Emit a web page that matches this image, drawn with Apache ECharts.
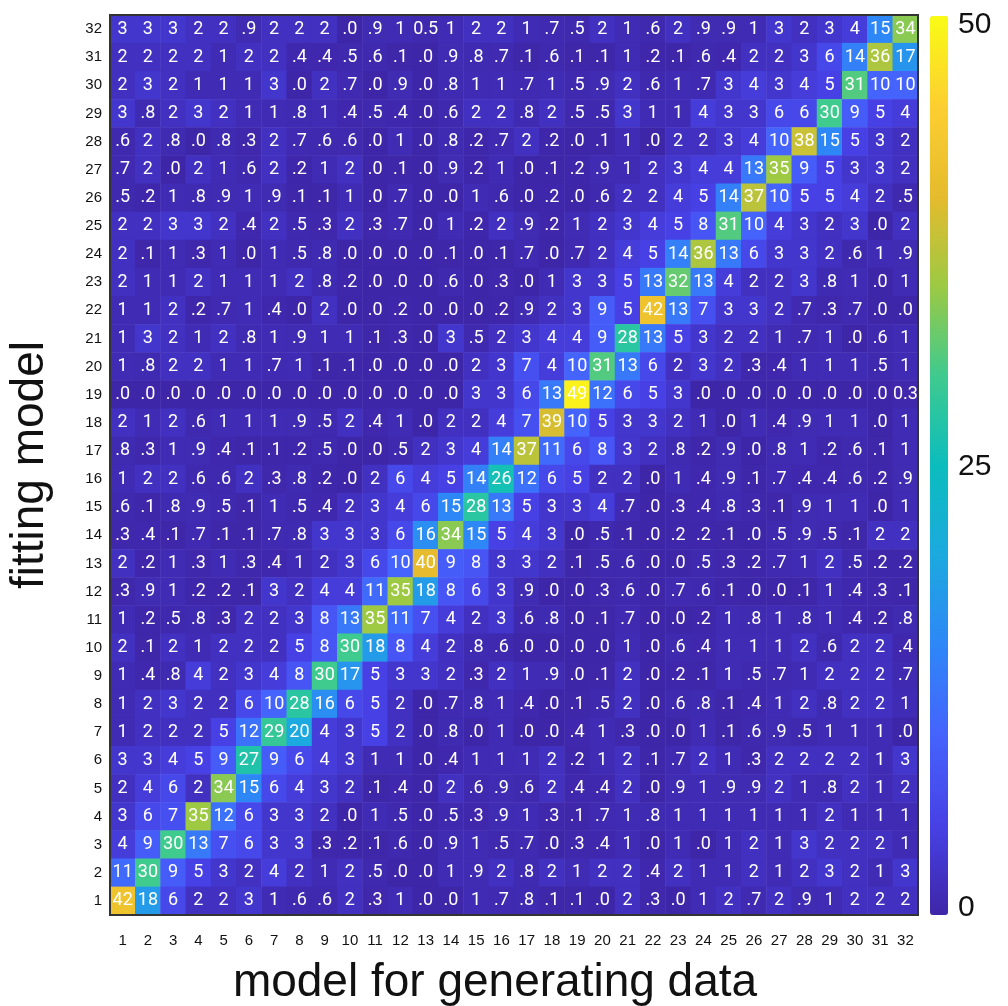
<!DOCTYPE html>
<html>
<head>
<meta charset="utf-8">
<script src="https://cdn.jsdelivr.net/npm/echarts@6/dist/echarts.min.js"></script>
<style>
  html, body { margin: 0; padding: 0; background: #fff; }
  #chart { width: 1008px; height: 1006px; }
</style>
</head>
<body>
<div id="chart"></div>
<script>
// model numbers, used for both axes
const models = ["1","2","3","4","5","6","7","8","9","10","11","12","13","14","15","16",
  "17","18","19","20","21","22","23","24","25","26","27","28","29","30","31","32"];

// rows of the matrix, top (fitting model 32) to bottom (fitting model 1),
// columns are the generating model 1..32
const rows = [
  [3,3,3,2,2,.9,2,2, 2,0,.9,1,.5,1,2,2, 1,.7,.5,2,1,.6,2,.9, .9,1,3,2,3,4,15,34],
  [2,2,2,2,1,2,2,.4, .4,.5,.6,.1,0,.9,.8,.7, .1,.6,.1,.1,1,.2,.1,.6, .4,2,2,3,6,14,36,17],
  [2,3,2,1,1,1,3,0, 2,.7,0,.9,0,.8,1,1, .7,1,.5,.9,2,.6,1,.7, 3,4,3,4,5,31,10,10],
  [3,.8,2,3,2,1,1,.8, 1,.4,.5,.4,0,.6,2,2, .8,2,.5,.5,3,1,1,4, 3,3,6,6,30,9,5,4],
  [.6,2,.8,0,.8,.3,2,.7, .6,.6,0,1,0,.8,.2,.7, 2,.2,0,.1,1,0,2,2, 3,4,10,38,15,5,3,2],
  [.7,2,0,2,1,.6,2,.2, 1,2,0,.1,0,.9,.2,1, 0,.1,.2,.9,1,2,3,4, 4,13,35,9,5,3,3,2],
  [.5,.2,1,.8,.9,1,.9,.1, .1,1,0,.7,0,0,1,.6, 0,.2,0,.6,2,2,4,5, 14,37,10,5,5,4,2,.5],
  [2,2,3,3,2,.4,2,.5, .3,2,.3,.7,0,1,.2,2, .9,.2,1,2,3,4,5,8, 31,10,4,3,2,3,0,2],
  [2,.1,1,.3,1,0,1,.5, .8,0,0,0,0,.1,0,.1, .7,0,.7,2,4,5,14,36, 13,6,3,3,2,.6,1,.9],
  [2,1,1,2,1,1,1,2, .8,.2,0,0,0,.6,0,.3, 0,1,3,3,5,13,32,13, 4,2,2,3,.8,1,0,1],
  [1,1,2,.2,.7,1,.4,0, 2,0,0,.2,0,0,0,.2, .9,2,3,9,5,42,13,7, 3,3,2,.7,.3,.7,0,0],
  [1,3,2,1,2,.8,1,.9, 1,1,.1,.3,0,3,.5,2, 3,4,4,9,28,13,5,3, 2,2,1,.7,1,0,.6,1],
  [1,.8,2,2,1,1,.7,1, .1,.1,0,0,0,0,2,3, 7,4,10,31,13,6,2,3, 2,.3,.4,1,1,1,.5,1],
  [0,0,0,0,0,0,0,0, 0,0,0,0,0,0,3,3, 6,13,49,12,6,5,3,0, 0,0,0,0,0,0,0,.3],
  [2,1,2,.6,1,1,1,.9, .5,2,.4,1,0,2,2,4, 7,39,10,5,3,3,2,1, 0,1,.4,.9,1,1,0,1],
  [.8,.3,1,.9,.4,.1,.1,.2, .5,0,0,.5,2,3,4,14, 37,11,6,8,3,2,.8,.2, .9,0,.8,1,.2,.6,.1,1],
  [1,2,2,.6,.6,2,.3,.8, .2,0,2,6,4,5,14,26, 12,6,5,2,2,0,1,.4, .9,.1,.7,.4,.4,.6,.2,.9],
  [.6,.1,.8,.9,.5,.1,1,.5, .4,2,3,4,6,15,28,13, 5,3,3,4,.7,0,.3,.4, .8,.3,.1,.9,1,1,0,1],
  [.3,.4,.1,.7,.1,.1,.7,.8, 3,3,3,6,16,34,15,5, 4,3,0,.5,.1,0,.2,.2, .1,0,.5,.9,.5,.1,2,2],
  [2,.2,1,.3,1,.3,.4,1, 2,3,6,10,40,9,8,3, 3,2,.1,.5,.6,0,0,.5, .3,.2,.7,1,2,.5,.2,.2],
  [.3,.9,1,.2,.2,.1,3,2, 4,4,11,35,18,8,6,3, .9,0,0,.3,.6,0,.7,.6, .1,0,0,.1,1,.4,.3,.1],
  [1,.2,.5,.8,.3,2,2,3, 8,13,35,11,7,4,2,3, .6,.8,0,.1,.7,0,0,.2, 1,.8,1,.8,1,.4,.2,.8],
  [2,.1,2,1,2,2,2,5, 8,30,18,8,4,2,.8,.6, 0,0,0,0,1,0,.6,.4, 1,1,1,2,.6,2,2,.4],
  [1,.4,.8,4,2,3,4,8, 30,17,5,3,3,2,.3,2, 1,.9,0,.1,2,0,.2,.1, 1,.5,.7,1,2,2,2,.7],
  [1,2,3,2,2,6,10,28, 16,6,5,2,0,.7,.8,1, .4,0,.1,.5,2,0,.6,.8, .1,.4,1,2,.8,2,2,1],
  [1,2,2,2,5,12,29,20, 4,3,5,2,0,.8,0,1, 0,0,.4,1,.3,0,0,1, .1,.6,.9,.5,1,1,1,0],
  [3,3,4,5,9,27,9,6, 4,3,1,1,0,.4,1,1, 1,2,.2,1,2,.1,.7,2, 1,.3,2,2,2,2,1,3],
  [2,4,6,2,34,15,6,4, 3,2,.1,.4,0,2,.6,.9, .6,2,.4,.4,2,0,.9,1, .9,.9,2,1,.8,2,1,2],
  [3,6,7,35,12,6,3,3, 2,0,1,.5,0,.5,.3,.9, 1,.3,.1,.7,1,.8,1,1, 1,1,1,1,2,1,1,1],
  [4,9,30,13,7,6,3,3, .3,.2,.1,.6,0,.9,1,.5, .7,0,.3,.4,1,0,1,0, 1,2,1,3,2,2,2,1],
  [11,30,9,5,3,2,4,2, 1,2,.5,0,0,1,.9,2, .8,2,1,2,2,.4,2,1, 1,2,1,2,3,2,1,3],
  [42,18,6,2,2,3,1,.6, .6,2,.3,1,0,0,1,.7, .8,.1,.1,0,2,.3,0,1, 2,.7,2,.9,1,2,2,2]
];

// cells printed as "0.x" instead of ".x"  ([x index, y index])
const leadingZeroCells = [[12, 31], [31, 18]];

const colorTicks = [0, 25, 50];

// parula
const parula = ["#3e26a8", "#4741e5", "#4563fd", "#2e87f7", "#1ca9df", "#0bbdbd",
  "#3fca8e", "#9dc943", "#e6bb2d", "#fccf30", "#f9fb15"];

const data = [];
rows.forEach((row, i) => {
  const y = rows.length - 1 - i;
  row.forEach((v, x) => data.push([x, y, v]));
});

function cellLabel(p) {
  const [x, y, v] = p.value;
  if (v >= 1) return String(Math.round(v));
  const keepZero = leadingZeroCells.some(c => c[0] === x && c[1] === y);
  const s = v.toFixed(1);
  return keepZero ? s : s.slice(1);
}

const chart = echarts.init(document.getElementById("chart"));
const tickFont = "'Liberation Sans', Helvetica, Arial, sans-serif";

chart.setOption({
  animation: false,
  backgroundColor: "#fff",
  grid: [
    {
      left: 110, right: 90, top: 15, bottom: 91,
      outerBoundsMode: "none",
      show: true, borderColor: "#333", borderWidth: 2, backgroundColor: "transparent", z: 10
    },
    // colorbar tick labels
    { left: 930, width: 18, top: 25, height: 883, outerBoundsMode: "none" }
  ],
  xAxis: [
    {
      type: "category",
      data: models,
      name: "model for generating data",
      nameLocation: "middle",
      nameGap: 45,
      nameTextStyle: { fontSize: 46, color: "#111", fontFamily: tickFont, padding: [0, 38, 0, 0] },
      axisLine: { show: false },
      axisTick: { show: false },
      axisLabel: { fontSize: 15, color: "#111", margin: 18, fontFamily: tickFont, interval: 0 },
      splitLine: { show: false }
    },
    { gridIndex: 1, type: "value", show: false }
  ],
  yAxis: [
    {
      type: "category",
      data: models,
      name: "fitting model",
      nameLocation: "middle",
      nameGap: 57,
      nameTextStyle: { fontSize: 46, color: "#111", fontFamily: tickFont },
      axisLine: { show: false },
      axisTick: { show: false },
      axisLabel: { fontSize: 15, color: "#111", margin: 8, fontFamily: tickFont, interval: 0 },
      splitLine: { show: false }
    },
    {
      gridIndex: 1,
      type: "value",
      position: "right",
      min: colorTicks[0],
      max: colorTicks[colorTicks.length - 1],
      interval: 25,
      axisLine: { show: false },
      axisTick: { show: false },
      splitLine: { show: false },
      axisLabel: { fontSize: 30, color: "#111", margin: 10, fontFamily: tickFont }
    }
  ],
  visualMap: {
    type: "continuous",
    seriesIndex: 0,
    min: 0,
    max: 50,
    calculable: false,
    orient: "vertical",
    left: 930,
    top: 16,
    padding: 0,
    itemWidth: 18,
    itemHeight: 899,
    text: null,
    showLabel: false,
    inRange: { color: parula }
  },
  series: [
    {
      type: "heatmap",
      data: data,
      label: {
        show: true,
        formatter: cellLabel,
        color: "#fff",
        fontSize: 18,
        fontFamily: "Roboto, sans-serif"
      },
      itemStyle: { borderWidth: 0 }
    }
  ]
});
</script>
</body>
</html>
